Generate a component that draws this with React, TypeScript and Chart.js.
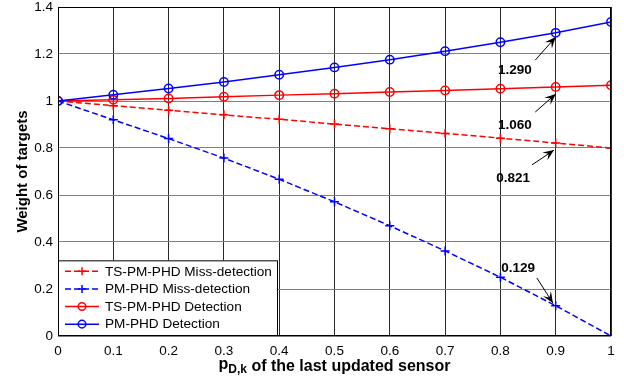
import React, { useEffect, useRef } from "react";
import { Chart, registerables } from "chart.js";

Chart.register(...registerables);

const pdValues = [0, 0.1, 0.2, 0.3, 0.4, 0.5, 0.6, 0.7, 0.8, 0.9, 1];
const tsMiss = [1, 0.98, 0.961, 0.941, 0.922, 0.902, 0.882, 0.862, 0.842, 0.821, 0.8];
const pmMiss = [1, 0.92, 0.84, 0.757, 0.667, 0.571, 0.469, 0.362, 0.25, 0.129, 0];
const tsDet = [1, 1.005, 1.011, 1.018, 1.025, 1.031, 1.038, 1.045, 1.052, 1.06, 1.067];
const pmDet = [1, 1.027, 1.053, 1.081, 1.112, 1.143, 1.176, 1.212, 1.25, 1.29, 1.336];
const yTickValues = [0, 0.2, 0.4, 0.6, 0.8, 1, 1.2, 1.4];

const seriesNames = [
  "TS-PM-PHD Miss-detection",
  "PM-PHD Miss-detection",
  "TS-PM-PHD Detection",
  "PM-PHD Detection",
];

// annotations: label, arrow tip (x,y), arrow tail (x,y), text centre (x,y) in data units
const annotations = [
  { label: "1.290", tip: [0.9, 1.272], tail: [0.863, 1.174], text: [0.826, 1.132] },
  { label: "1.060", tip: [0.9, 1.03], tail: [0.863, 0.953], text: [0.826, 0.898] },
  { label: "0.821", tip: [0.897, 0.791], tail: [0.857, 0.728], text: [0.823, 0.672] },
  { label: "0.129", tip: [0.895, 0.14], tail: [0.866, 0.247], text: [0.832, 0.289] },
];

const FONT = "'Liberation Sans', Arial, Helvetica, sans-serif";

const colors = ["#ff0000", "#0000ff", "#ff0000", "#0000ff"];
const dashes = [[6, 3], [6, 3], [], []];
const markers = ["cross", "cross", "circle", "circle"];

const overlayPlugin = {
  id: "overlay",
  afterDatasetsDraw(chart: any) {
    const ctx = chart.ctx;
    const xs = chart.scales.x;
    const ys = chart.scales.y;
    const area = chart.chartArea;
    ctx.save();
    // annotations
    ctx.fillStyle = "#000";
    ctx.strokeStyle = "#000";
    ctx.lineWidth = 1;
    ctx.font = `bold 13.5px ${FONT}`;
    ctx.textAlign = "center";
    ctx.textBaseline = "middle";
    for (const a of annotations) {
      const tx = xs.getPixelForValue(a.tail[0]);
      const ty = ys.getPixelForValue(a.tail[1]);
      const hx = xs.getPixelForValue(a.tip[0]);
      const hy = ys.getPixelForValue(a.tip[1]);
      ctx.beginPath();
      ctx.moveTo(tx, ty);
      ctx.lineTo(hx, hy);
      ctx.stroke();
      const ang = Math.atan2(hy - ty, hx - tx);
      const L = 12;
      const W = 0.4;
      ctx.beginPath();
      ctx.moveTo(hx, hy);
      ctx.lineTo(hx - L * Math.cos(ang - W), hy - L * Math.sin(ang - W));
      ctx.lineTo(hx - L * 0.55 * Math.cos(ang), hy - L * 0.55 * Math.sin(ang));
      ctx.lineTo(hx - L * Math.cos(ang + W), hy - L * Math.sin(ang + W));
      ctx.closePath();
      ctx.fill();
      ctx.fillText(a.label, xs.getPixelForValue(a.text[0]), ys.getPixelForValue(a.text[1]));
    }

    // legend box
    const lx = area.left;
    const ly = ys.getPixelForValue(0.322);
    const lw = 220;
    const lh = area.bottom - ly;
    ctx.fillStyle = "#fff";
    ctx.fillRect(lx, ly, lw, lh);
    ctx.strokeStyle = "#000";
    ctx.lineWidth = 1;
    ctx.strokeRect(lx + 0.5, ly + 0.5, lw - 1, lh - 1);
    ctx.font = `13.6px ${FONT}`;
    ctx.textAlign = "left";
    ctx.textBaseline = "middle";
    const rowH = 17.6;
    for (let i = 0; i < 4; i++) {
      const y = ly + 11 + i * rowH;
      ctx.strokeStyle = colors[i];
      ctx.lineWidth = 1.5;
      ctx.setLineDash(dashes[i]);
      ctx.beginPath();
      ctx.moveTo(lx + 7, y);
      ctx.lineTo(lx + 41, y);
      ctx.stroke();
      ctx.setLineDash([]);
      const cx = lx + 24;
      if (markers[i] === "circle") {
        ctx.beginPath();
        ctx.arc(cx, y, 3.8, 0, Math.PI * 2);
        ctx.stroke();
      } else {
        ctx.beginPath();
        ctx.moveTo(cx - 4, y);
        ctx.lineTo(cx + 4, y);
        ctx.moveTo(cx, y - 4);
        ctx.lineTo(cx, y + 4);
        ctx.stroke();
      }
      ctx.fillStyle = "#000";
      ctx.fillText(seriesNames[i], lx + 47, y + 0.5);
    }

    // axes box
    ctx.strokeStyle = "#000";
    ctx.lineWidth = 1;
    ctx.strokeRect(area.left + 0.5, area.top + 0.5, area.right - area.left - 1, area.bottom - area.top - 1);

    // x title with subscript
    const cxm = (area.left + area.right) / 2;
    const base = 371;
    ctx.fillStyle = "#000";
    ctx.textBaseline = "alphabetic";
    ctx.textAlign = "left";
    const bigFont = `bold 16px ${FONT}`;
    const smallFont = `bold 12px ${FONT}`;
    const p1 = "p";
    const sub = "D,k";
    const rest = " of the last updated sensor";
    ctx.font = bigFont;
    const w1 = ctx.measureText(p1).width;
    const w3 = ctx.measureText(rest).width;
    ctx.font = smallFont;
    const w2 = ctx.measureText(sub).width;
    const x0 = cxm - (w1 + w2 + w3) / 2;
    ctx.font = bigFont;
    ctx.fillText(p1, x0, base - 2);
    ctx.font = smallFont;
    ctx.fillText(sub, x0 + w1, base + 2);
    ctx.font = bigFont;
    ctx.fillText(rest, x0 + w1 + w2, base);
    ctx.restore();
  },
};

export default function App() {
  const ref = useRef<HTMLCanvasElement>(null);
  useEffect(() => {
    document.body.style.margin = "0";
    const series = [tsMiss, pmMiss, tsDet, pmDet];
    const chart = new Chart(ref.current!, {
      type: "line",
      data: {
        labels: pdValues,
        datasets: series.map((d, i) => ({
          label: seriesNames[i],
          data: d.map((v, j) => ({ x: pdValues[j], y: v })),
          borderColor: colors[i],
          backgroundColor: "transparent",
          borderWidth: 1.5,
          borderDash: dashes[i],
          pointStyle: markers[i] as any,
          pointRadius: markers[i] === "circle" ? 4.2 : 4.5,
          pointBorderColor: colors[i],
          pointBackgroundColor: "transparent",
          pointBorderWidth: 1.5,
          tension: 0,
          order: 3 - i,
        })),
      },
      options: {
        animation: false,
        responsive: false,
        maintainAspectRatio: false,
        layout: { padding: { top: 7, right: 13, left: 0, bottom: 0 } },
        plugins: { legend: { display: false }, tooltip: { enabled: false } },
        scales: {
          x: {
            type: "linear",
            min: 0,
            max: 1,
            afterFit: (s: any) => {
              s.height = 48;
              s.paddingLeft = 0;
              s.paddingRight = 0;
            },
            afterBuildTicks: (s: any) => { s.ticks = pdValues.map((v) => ({ value: v })); },
            grid: { color: "#2a2a2a", lineWidth: 1, drawTicks: false },
            border: { display: false },
            ticks: {
              color: "#000",
              font: { size: 13.5, family: FONT },
              padding: 7,
              maxRotation: 0,
              callback: (v: any) => String(Math.round(v * 10) / 10),
            },
          },
          y: {
            min: 0,
            max: 1.4,
            afterFit: (s: any) => {
              s.width = 58;
              s.paddingTop = 0;
              s.paddingBottom = 0;
            },
            afterBuildTicks: (s: any) => {
              s.ticks = yTickValues.map((v) => ({ value: v }));
            },
            grid: { color: "#808080", lineWidth: 1, drawTicks: false },
            border: { display: false },
            title: {
              display: true,
              text: "Weight of targets",
              color: "#000",
              font: { size: 15, weight: "bold", family: FONT },
              padding: { top: 14, bottom: 0 },
            },
            ticks: {
              color: "#000",
              font: { size: 13.5, family: FONT },
              padding: 5,
              callback: (v: any) => String(Math.round(v * 10) / 10),
            },
          },
        },
      },
      plugins: [overlayPlugin],
    });
    return () => chart.destroy();
  }, []);
  return (
    <div style={{ width: 624, height: 384, background: "#fff" }}>
      <canvas ref={ref} width={624} height={384} style={{ display: "block" }} />
    </div>
  );
}
